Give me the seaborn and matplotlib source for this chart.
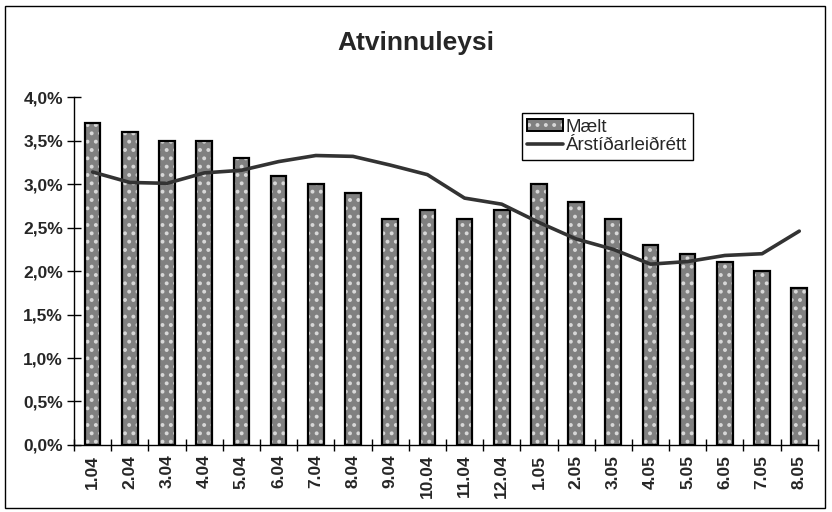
import numpy as np
import pandas as pd
import matplotlib
matplotlib.use("Agg")
import matplotlib.pyplot as plt
import seaborn as sns
from matplotlib.patches import Rectangle
from matplotlib.ticker import FuncFormatter, MultipleLocator

months = ["1.04", "2.04", "3.04", "4.04", "5.04", "6.04", "7.04", "8.04", "9.04", "10.04",
          "11.04", "12.04", "1.05", "2.05", "3.05", "4.05", "5.05", "6.05", "7.05", "8.05"]
maelt = [3.7, 3.6, 3.5, 3.5, 3.3, 3.1, 3.0, 2.9, 2.6, 2.7,
         2.6, 2.7, 3.0, 2.8, 2.6, 2.3, 2.2, 2.1, 2.0, 1.8]
arstidarleidrett = [3.14, 3.02, 3.01, 3.13, 3.16, 3.26, 3.33, 3.32, 3.22, 3.11,
                    2.84, 2.77, 2.56, 2.37, 2.25, 2.08, 2.11, 2.18, 2.20, 2.46]

df = pd.DataFrame({"month": months, "maelt": maelt, "adj": arstidarleidrett})

sns.set_style("white")
plt.rcParams["font.family"] = ["Liberation Sans", "DejaVu Sans"]
plt.rcParams["hatch.linewidth"] = 1.6

fig = plt.figure(figsize=(8.32, 5.12), dpi=100)
ax = fig.add_axes([0.089, 0.131, 0.894, 0.679])

# dotted gray bars
sns.barplot(data=df, x="month", y="maelt", color="#808080", width=0.42,
            saturation=1, ax=ax, zorder=2)
for p in ax.patches:
    p.set_hatch("..")
    p.set_edgecolor("#d8d8d8")
    p.set_linewidth(0)
# black outline on top
for p in list(ax.patches):
    ax.add_patch(Rectangle(p.get_xy(), p.get_width(), p.get_height(),
                           fill=False, edgecolor="black", linewidth=1.6, zorder=3))

sns.lineplot(x=np.arange(len(months)), y=df["adj"], color="#333333", linewidth=2.6,
             ax=ax, zorder=4)

ax.set_xlim(-0.5, len(months) - 0.5)
ax.set_ylim(0, 4.0)
ax.yaxis.set_major_locator(MultipleLocator(0.5))
ax.yaxis.set_major_formatter(FuncFormatter(lambda v, _: f"{v:.1f}%".replace(".", ",")))
ax.set_xlabel("")
ax.set_ylabel("")

ax.set_xticks(np.arange(len(months)))
ax.set_xticklabels(months, rotation=90, fontweight="bold", fontsize=12.5)
ax.set_xticks(np.arange(len(months) + 1) - 0.5, minor=True)
ax.tick_params(axis="both", which="both", bottom=True, left=True)
ax.tick_params(axis="x", which="major", length=0, pad=7)
ax.tick_params(axis="x", which="minor", direction="inout", length=9, width=1, color="black")
ax.tick_params(axis="y", which="major", direction="inout", length=10, width=1,
               color="black", labelsize=12.5, pad=3)
for t in ax.get_yticklabels():
    t.set_fontweight("bold")

for s in ["top", "right"]:
    ax.spines[s].set_visible(False)
for s in ["left", "bottom"]:
    ax.spines[s].set_color("black")
    ax.spines[s].set_linewidth(1)

bar_handle = (Rectangle((0, 0), 1, 1, facecolor="#808080", hatch="..", edgecolor="#d8d8d8",
                        linewidth=0),
              Rectangle((0, 0), 1, 1, fill=False, edgecolor="black", linewidth=1.4))
line_handle = plt.Line2D([], [], color="#333333", linewidth=2.6)
leg = ax.legend([bar_handle, line_handle], ["Mælt", "Árstíðarleiðrétt"], loc="upper left",
                bbox_to_anchor=(0.602, 0.955), fancybox=False, framealpha=1,
                edgecolor="black", fontsize=13.5, handlelength=1.9, handleheight=0.6,
                handletextpad=0.15, borderpad=0.3, labelspacing=0.1, borderaxespad=0)
leg.get_frame().set_linewidth(1)

fig.suptitle("Atvinnuleysi", y=0.94, fontsize=19, fontweight="bold")

fig.patches.append(Rectangle((0.006, 0.008), 0.986, 0.98, transform=fig.transFigure,
                             fill=False, edgecolor="black", linewidth=1))

fig.savefig("out.png", dpi=100)
